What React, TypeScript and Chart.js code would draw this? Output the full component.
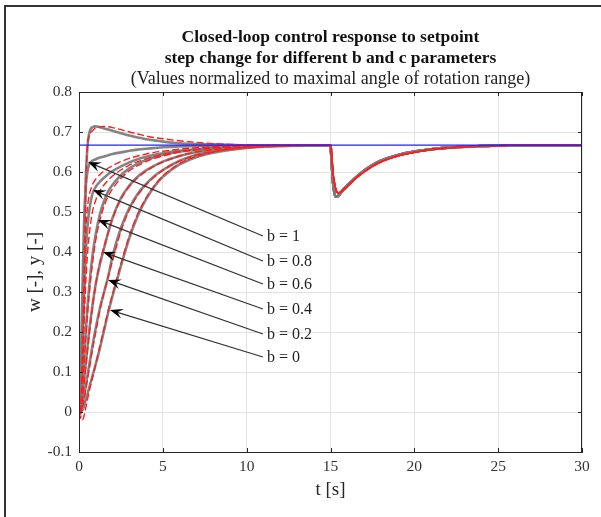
import React, { useEffect, useRef } from "react";
import { Chart, registerables } from "chart.js";

Chart.register(...registerables);

// ---------- data ----------
const T_RISE = [0, 0.1, 0.2, 0.3, 0.4, 0.5, 0.6, 0.8, 1, 1.25, 1.5, 1.75, 2, 2.5, 3, 3.5, 4, 4.5, 5, 6, 7, 8, 9, 10, 11, 12, 13, 14, 15];
const T_DIST = [15.05, 15.15, 15.3, 15.45, 15.7, 16, 16.5, 17, 17.5, 18, 19, 20, 21, 22, 23, 24, 25, 26, 27, 28, 29, 30];

const SETPOINT_T = [0, 30];
const SETPOINT_W = [0.667, 0.667];

// measured (gray)
const Y_OVER_MEAS = [0, 0.05, 0.2, 0.4, 0.58, 0.66, 0.695, 0.712, 0.714, 0.712, 0.709, 0.706, 0.703, 0.697, 0.691, 0.686, 0.682, 0.679, 0.676, 0.672, 0.67, 0.669, 0.668, 0.667, 0.667, 0.667, 0.667, 0.667, 0.667];
const Y_B1_MEAS = [0, 0.1, 0.3, 0.47, 0.56, 0.6, 0.618, 0.628, 0.632, 0.636, 0.639, 0.642, 0.645, 0.649, 0.653, 0.656, 0.658, 0.66, 0.662, 0.664, 0.665, 0.666, 0.667, 0.667, 0.667, 0.667, 0.667, 0.667, 0.667];
const Y_B08_MEAS = [0, 0.05, 0.15, 0.28, 0.39, 0.46, 0.5, 0.545, 0.563, 0.576, 0.586, 0.595, 0.602, 0.614, 0.624, 0.632, 0.638, 0.643, 0.647, 0.653, 0.657, 0.66, 0.663, 0.665, 0.666, 0.667, 0.667, 0.667, 0.667];
const Y_B06_MEAS = [0, 0.03, 0.08, 0.14, 0.2, 0.26, 0.31, 0.39, 0.445, 0.495, 0.528, 0.552, 0.568, 0.592, 0.609, 0.621, 0.63, 0.637, 0.643, 0.651, 0.656, 0.66, 0.663, 0.665, 0.666, 0.667, 0.667, 0.667, 0.667];
const Y_B04_MEAS = [0, 0.015, 0.04, 0.08, 0.12, 0.16, 0.2, 0.265, 0.32, 0.37, 0.41, 0.45, 0.485, 0.535, 0.566, 0.588, 0.604, 0.616, 0.626, 0.64, 0.65, 0.656, 0.66, 0.663, 0.665, 0.666, 0.667, 0.667, 0.667];
const Y_B02_MEAS = [0, 0.005, 0.02, 0.04, 0.065, 0.09, 0.115, 0.165, 0.21, 0.26, 0.3, 0.34, 0.39, 0.46, 0.51, 0.545, 0.57, 0.59, 0.605, 0.628, 0.643, 0.652, 0.658, 0.662, 0.664, 0.665, 0.666, 0.667, 0.667];
const Y_B0_MEAS = [0, 0, 0.005, 0.015, 0.03, 0.045, 0.06, 0.09, 0.12, 0.16, 0.205, 0.25, 0.29, 0.365, 0.435, 0.49, 0.532, 0.564, 0.588, 0.619, 0.637, 0.648, 0.655, 0.66, 0.663, 0.665, 0.666, 0.667, 0.667];

// simulated (red)
const Y_OVER_SIM = [-0.005, -0.015, 0.08, 0.3, 0.55, 0.665, 0.69, 0.703, 0.71, 0.713, 0.714, 0.713, 0.711, 0.706, 0.7, 0.695, 0.69, 0.686, 0.683, 0.678, 0.674, 0.671, 0.669, 0.668, 0.667, 0.667, 0.667, 0.667, 0.667];
const Y_B1_SIM = [0, 0, 0.15, 0.33, 0.45, 0.51, 0.54, 0.568, 0.582, 0.594, 0.603, 0.61, 0.616, 0.626, 0.634, 0.64, 0.645, 0.649, 0.652, 0.657, 0.661, 0.663, 0.665, 0.666, 0.667, 0.667, 0.667, 0.667, 0.667];
const Y_B08_SIM = [0, 0, 0.1, 0.22, 0.32, 0.39, 0.44, 0.5, 0.53, 0.553, 0.568, 0.58, 0.59, 0.605, 0.617, 0.626, 0.633, 0.639, 0.644, 0.651, 0.656, 0.66, 0.663, 0.665, 0.666, 0.667, 0.667, 0.667, 0.667];
const Y_B06_SIM = [0, 0.01, 0.06, 0.12, 0.18, 0.24, 0.29, 0.37, 0.43, 0.48, 0.515, 0.54, 0.558, 0.584, 0.603, 0.616, 0.626, 0.634, 0.64, 0.65, 0.656, 0.66, 0.663, 0.665, 0.666, 0.667, 0.667, 0.667, 0.667];
const Y_B04_SIM = [0, 0, 0.03, 0.07, 0.11, 0.15, 0.19, 0.26, 0.32, 0.375, 0.415, 0.45, 0.483, 0.532, 0.564, 0.586, 0.602, 0.615, 0.625, 0.64, 0.65, 0.656, 0.66, 0.663, 0.665, 0.666, 0.667, 0.667, 0.667];
const Y_B02_SIM = [0, -0.005, 0.01, 0.03, 0.055, 0.08, 0.105, 0.155, 0.2, 0.255, 0.3, 0.34, 0.378, 0.452, 0.505, 0.542, 0.568, 0.588, 0.604, 0.627, 0.642, 0.651, 0.657, 0.661, 0.664, 0.665, 0.666, 0.667, 0.667];
const Y_B0_SIM = [0, -0.02, -0.02, -0.01, 0.01, 0.03, 0.05, 0.085, 0.12, 0.165, 0.21, 0.255, 0.295, 0.37, 0.44, 0.495, 0.535, 0.566, 0.59, 0.621, 0.639, 0.65, 0.657, 0.661, 0.663, 0.665, 0.666, 0.667, 0.667];

// disturbance at t = 15 s (common to all curves)
const Y_DIST_MEAS = [0.64, 0.575, 0.538, 0.54, 0.553, 0.566, 0.586, 0.603, 0.617, 0.628, 0.642, 0.651, 0.657, 0.661, 0.663, 0.665, 0.666, 0.667, 0.667, 0.667, 0.667, 0.667];
const Y_DIST_SIM = [0.65, 0.6, 0.56, 0.548, 0.553, 0.564, 0.584, 0.6, 0.614, 0.625, 0.64, 0.649, 0.656, 0.66, 0.663, 0.665, 0.666, 0.667, 0.667, 0.667, 0.667, 0.667];

// annotations
const B_LABELS = ["b = 1", "b = 0.8", "b = 0.6", "b = 0.4", "b = 0.2", "b = 0"];
const ARROW_TIP_T = [0.54, 0.83, 1.13, 1.43, 1.73, 1.85];
const ARROW_TIP_Y = [0.625, 0.555, 0.48, 0.4, 0.33, 0.255];
const ARROW_TAIL_T = [10.97, 10.97, 10.97, 10.97, 10.97, 10.97];
const ARROW_TAIL_Y = [0.44, 0.3775, 0.32, 0.2575, 0.195, 0.1375];

const TITLE_LINES = ["Closed-loop control response to setpoint", "step change for different b and c parameters"];
const SUBTITLE = "(Values normalized to maximal angle of rotation range)";
const X_TITLE = "t [s]";
const Y_TITLE = "w [-], y [-]";

const X_MIN = 0, X_MAX = 30, X_STEP = 5;
const Y_MIN = -0.1, Y_MAX = 0.8, Y_STEP = 0.1;

// ---------- helpers ----------
const SERIF = "'Liberation Serif', 'Times New Roman', serif";

function pts(t: number[], y: number[]) {
  return t.map((v, i) => ({ x: v, y: y[i] }));
}

const MEAS = [Y_OVER_MEAS, Y_B1_MEAS, Y_B08_MEAS, Y_B06_MEAS, Y_B04_MEAS, Y_B02_MEAS, Y_B0_MEAS];
const SIM = [Y_OVER_SIM, Y_B1_SIM, Y_B08_SIM, Y_B06_SIM, Y_B04_SIM, Y_B02_SIM, Y_B0_SIM];

const decorPlugin = {
  id: "decor",
  afterDraw(chart: any) {
    const ctx = chart.ctx as CanvasRenderingContext2D;
    const { left, right, top, bottom } = chart.chartArea;
    const xs = chart.scales.x;
    const ys = chart.scales.y;
    ctx.save();

    // axes box
    ctx.strokeStyle = "#262626";
    ctx.lineWidth = 1;
    ctx.strokeRect(left + 0.5, top + 0.5, right - left - 1, bottom - top);

    // inside ticks
    const tl = 4;
    ctx.beginPath();
    for (let v = X_MIN; v <= X_MAX + 1e-9; v += X_STEP) {
      const px = Math.round(xs.getPixelForValue(v)) + 0.5;
      ctx.moveTo(px, bottom); ctx.lineTo(px, bottom - tl);
      ctx.moveTo(px, top); ctx.lineTo(px, top + tl);
    }
    for (let v = Y_MIN; v <= Y_MAX + 1e-9; v += Y_STEP) {
      const py = Math.round(ys.getPixelForValue(v)) + 0.5;
      ctx.moveTo(left, py); ctx.lineTo(left + tl, py);
      ctx.moveTo(right, py); ctx.lineTo(right - tl, py);
    }
    ctx.stroke();

    // arrows
    for (let i = 0; i < B_LABELS.length; i++) {
      const x0 = xs.getPixelForValue(ARROW_TAIL_T[i]);
      const y0 = ys.getPixelForValue(ARROW_TAIL_Y[i]);
      const x1 = xs.getPixelForValue(ARROW_TIP_T[i]);
      const y1 = ys.getPixelForValue(ARROW_TIP_Y[i]);
      const ang = Math.atan2(y1 - y0, x1 - x0);
      const L = 13, W = 5;
      ctx.strokeStyle = "#333";
      ctx.lineWidth = 1.3;
      ctx.beginPath();
      ctx.moveTo(x0, y0);
      ctx.lineTo(x1 - Math.cos(ang) * 6, y1 - Math.sin(ang) * 6);
      ctx.stroke();
      const bx = x1 - Math.cos(ang) * L;
      const by = y1 - Math.sin(ang) * L;
      const nx = -Math.sin(ang), ny = Math.cos(ang);
      const mx = x1 - Math.cos(ang) * (L * 0.6);
      const my = y1 - Math.sin(ang) * (L * 0.6);
      ctx.fillStyle = "#000";
      ctx.beginPath();
      ctx.moveTo(x1, y1);
      ctx.lineTo(bx + nx * W, by + ny * W);
      ctx.lineTo(mx, my);
      ctx.lineTo(bx - nx * W, by - ny * W);
      ctx.closePath();
      ctx.fill();
      ctx.fillStyle = "#222";
      ctx.font = `16px ${SERIF}`;
      ctx.textAlign = "left";
      ctx.textBaseline = "middle";
      ctx.fillText(B_LABELS[i], x0 + 4, y0 + 1);
    }

    // titles
    const cx = (left + right) / 2;
    ctx.fillStyle = "#111";
    ctx.textAlign = "center";
    ctx.textBaseline = "middle";
    ctx.font = `bold 17.5px ${SERIF}`;
    ctx.fillText(TITLE_LINES[0], cx, 37);
    ctx.fillText(TITLE_LINES[1], cx, 58);
    ctx.fillStyle = "#222";
    ctx.font = `18px ${SERIF}`;
    ctx.fillText(SUBTITLE, cx, 79);

    // axis titles
    ctx.font = `19px ${SERIF}`;
    ctx.fillStyle = "#262626";
    ctx.fillText(X_TITLE, cx, 490);
    ctx.save();
    ctx.translate(35, (top + bottom) / 2);
    ctx.rotate(-Math.PI / 2);
    ctx.fillText(Y_TITLE, 0, 0);
    ctx.restore();

    // outer frame
    ctx.strokeStyle = "#333";
    ctx.lineWidth = 2;
    ctx.beginPath();
    ctx.moveTo(5, 517);
    ctx.lineTo(5, 6);
    ctx.lineTo(601, 6);
    ctx.stroke();

    ctx.restore();
  },
};

export default function App() {
  const ref = useRef<HTMLCanvasElement | null>(null);

  useEffect(() => {
    document.body.style.margin = "0";
    const canvas = ref.current;
    if (!canvas) return;

    const datasets: any[] = [];
    datasets.push({
      label: "w",
      data: pts(SETPOINT_T, SETPOINT_W),
      borderColor: "#1f1fff",
      borderWidth: 1.3,
      pointRadius: 0,
      order: 0,
    });
    MEAS.forEach((m, i) => {
      datasets.push({
        label: "y meas " + i,
        data: pts(T_RISE.concat(T_DIST), m.concat(Y_DIST_MEAS)),
        borderColor: "rgba(125,125,125,0.95)",
        borderWidth: 2.6,
        pointRadius: 0,
        cubicInterpolationMode: "monotone",
        order: 2,
      });
    });
    SIM.forEach((s, i) => {
      datasets.push({
        label: "y sim " + i,
        data: pts(T_RISE.concat(T_DIST), s.concat(Y_DIST_SIM)),
        borderColor: "#ff1e1e",
        borderWidth: 1.4,
        borderDash: [7, 3],
        pointRadius: 0,
        cubicInterpolationMode: "monotone",
        order: 1,
      });
    });

    const tickFont = { family: SERIF, size: 15.5 };
    const chart = new Chart(canvas, {
      type: "line",
      data: { datasets },
      options: {
        animation: false,
        responsive: false,
        devicePixelRatio: 1,
        layout: { padding: { left: 39, right: 19, top: 92, bottom: 0 } },
        plugins: { legend: { display: false }, tooltip: { enabled: false }, title: { display: false } },
        scales: {
          x: {
            type: "linear",
            min: X_MIN,
            max: X_MAX,
            ticks: { stepSize: X_STEP, font: tickFont, color: "#333", padding: 6, maxRotation: 0 },
            grid: { color: "#e3e3e3", lineWidth: 1, drawTicks: false },
            border: { display: true, color: "#262626", width: 1 },
            afterFit: (s: any) => { s.height = 65; },
          },
          y: {
            type: "linear",
            min: Y_MIN,
            max: Y_MAX,
            ticks: {
              stepSize: Y_STEP,
              font: tickFont,
              color: "#333",
              padding: 7,
              callback: (v: any) => String(Math.round(Number(v) * 10) / 10),
            },
            grid: { color: "#e3e3e3", lineWidth: 1, drawTicks: false },
            border: { display: true, color: "#262626", width: 1 },
            afterFit: (s: any) => { s.width = 40; },
          },
        },
      },
      plugins: [decorPlugin],
    });
    return () => chart.destroy();
  }, []);

  return (
    <div style={{ position: "absolute", left: 0, top: 0, width: 601, height: 517, background: "#fff" }}>
      <canvas ref={ref} width={601} height={517} style={{ display: "block", width: 601, height: 517 }} />
    </div>
  );
}
